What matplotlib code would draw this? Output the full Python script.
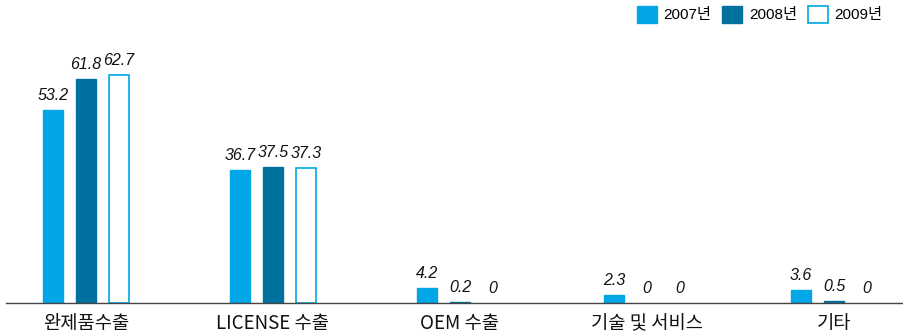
import matplotlib
matplotlib.use("Agg")
import matplotlib.pyplot as plt
from matplotlib.patches import Patch
import numpy as np

categories = ["완제품수출", "LICENSE 수출", "OEM 수출", "기술 및 서비스", "기타"]
years = ["2007년", "2008년", "2009년"]
v2007 = [53.2, 36.7, 4.2, 2.3, 3.6]
v2008 = [61.8, 37.5, 0.2, 0, 0.5]
v2009 = [62.7, 37.3, 0, 0, 0]
labels2007 = ["53.2", "36.7", "4.2", "2.3", "3.6"]
labels2008 = ["61.8", "37.5", "0.2", "0", "0.5"]
labels2009 = ["62.7", "37.3", "0", "0", "0"]

c_light = "#00a6e6"
c_dark = "#00709e"

num_font = ["Liberation Sans Narrow", "Liberation Sans", "Noto Sans CJK KR"]
kr_font = ["Noto Sans CJK KR", "DejaVu Sans"]

fig = plt.figure(figsize=(9.04, 3.34), dpi=100)
ax = fig.add_axes([6/904, 31/334, 898/904, 303/334])

x = np.arange(len(categories))
off = 33/187
w = 20/187
series = [(v2007, labels2007, dict(color=c_light, edgecolor=c_light)),
          (v2008, labels2008, dict(color=c_dark, edgecolor=c_dark)),
          (v2009, labels2009, dict(facecolor="white", edgecolor=c_light, linewidth=1.2))]
for k, (vals, labs, style) in enumerate(series):
    xs = x + (k - 1) * off
    bars = ax.bar(xs, vals, width=w, **style)
    for b, v in zip(bars, vals):
        if v == 0:
            b.set_visible(False)
    for xi, v, lab in zip(xs, vals, labs):
        ax.annotate(lab, (xi, v), xytext=(0, 5), textcoords="offset points",
                    ha="center", va="bottom", fontsize=11.5, style="italic",
                    family=num_font, color="#111111")

ax.set_xlim(-80/187, 818/187)
ax.set_ylim(0, 303/3.63)
for s in ["top", "right", "left"]:
    ax.spines[s].set_visible(False)
ax.spines["bottom"].set_color("#444444")
ax.spines["bottom"].set_linewidth(1.0)
ax.set_yticks([])
ax.set_xticks(x)
ax.set_xticklabels(categories, fontsize=13.5, family=kr_font, color="#111111")
ax.tick_params(axis="x", length=0, pad=7)

handles = [Patch(facecolor=c_light, edgecolor=c_light),
           Patch(facecolor=c_dark, edgecolor=c_dark),
           Patch(facecolor="white", edgecolor=c_light, linewidth=1.2)]
leg = fig.legend(handles, years, loc="upper left", bbox_to_anchor=(637/904, 1 - 6/334),
                 ncol=3, frameon=False, handlelength=1.3, handleheight=1.3,
                 handletextpad=0.45, columnspacing=0.7, borderaxespad=0, borderpad=0,
                 prop={"family": num_font + ["Noto Sans CJK KR"], "size": 11})

fig.savefig("out.png", dpi=100)
